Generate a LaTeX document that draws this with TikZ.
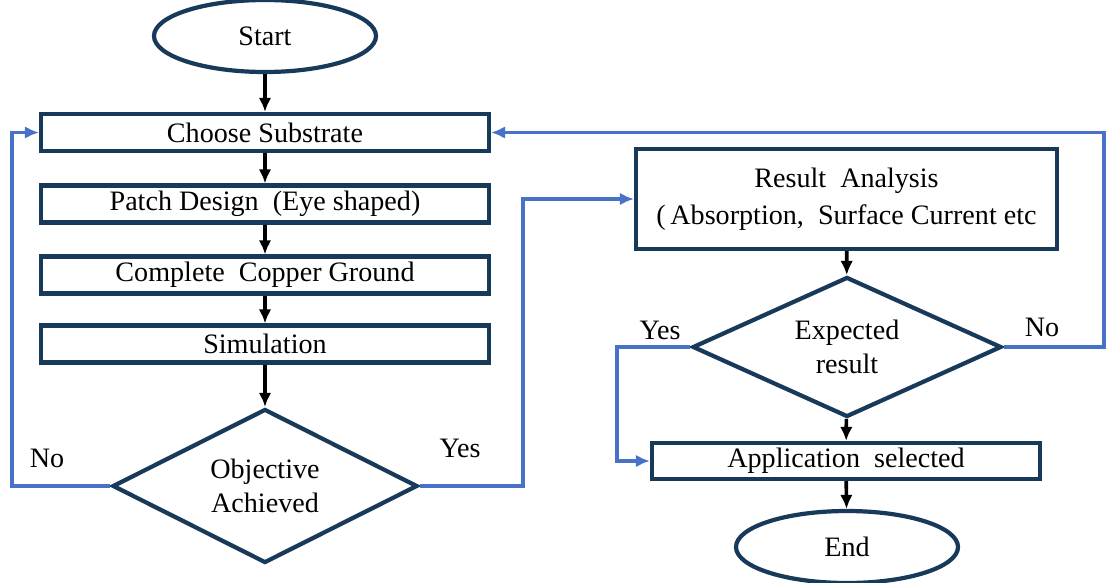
\documentclass[tikz,border=0pt]{standalone}
\usepackage{fontspec}
\setmainfont{Liberation Serif}
\usetikzlibrary{shapes.geometric,arrows.meta}

\definecolor{boxline}{RGB}{24,58,90}
\definecolor{loopblue}{RGB}{72,114,200}

\begin{document}
\begin{tikzpicture}[
    every node/.style={font=\fontsize{20}{24}\selectfont},
    stepbox/.style={draw=boxline,line width=3pt,fill=white,minimum width=11.2cm,minimum height=0.925cm,inner sep=0pt},
    termbox/.style={draw=boxline,line width=3pt,fill=white,ellipse,minimum width=5.55cm,minimum height=1.8cm,inner sep=0pt},
    askbox/.style={draw=boxline,line width=3pt,fill=white,diamond,aspect=2,inner sep=0pt,align=center},
    flow/.style={line width=2.6pt,-{Latex[length=10pt,width=9pt]}},
    back/.style={draw=loopblue,line width=2.6pt,-{Latex[length=10pt,width=9pt]}}
  ]
        \useasboundingbox (0,0) rectangle (27.675,-14.575);
        \coordinate (c1) at (6.625,-0.9);
        \coordinate (c2) at (6.625,-3.3125);
        \coordinate (c3) at (6.625,-5.1);
        \coordinate (c4) at (6.625,-6.875);
        \coordinate (c5) at (6.625,-8.6);
        \coordinate (c6) at (6.625,-12.15);
        \coordinate (r1) at (21.1625,-4.975);
        \coordinate (r2) at (21.175,-8.675);
        \coordinate (r3) at (21.15,-11.525);
        \coordinate (r4) at (21.175,-13.675);
        \node[termbox] (Start) at (c1){Start};
        \node[stepbox] (Substrate) at (c2){Choose Substrate};
        \node[stepbox] (Patch) at (c3){Patch Design\ \ (Eye shaped)};
        \node[stepbox] (Ground) at (c4){Complete\ \ Copper Ground};
        \node[stepbox] (Simulation) at (c5){Simulation};
        \node[askbox,minimum width=7.625cm,minimum height=3.85cm] (Objective) at (c6){Objective\\Achieved};
        \node[stepbox,minimum width=10.525cm,minimum height=2.5cm,align=center,font=\fontsize{20}{26}\selectfont] (Analysis) at (r1){Result\ \ Analysis\\(\,Absorption,\ \ Surface Current etc};
        \node[askbox,minimum width=7.725cm,minimum height=3.5cm] (Expected) at (r2){Expected\\result};
        \node[stepbox,minimum width=9.7cm,minimum height=0.9cm] (Application) at (r3){Application\ \ selected};
        \node[termbox] (End) at (r4){End};
        % main flow
        \draw[flow] (Start) -- (Substrate);
        \draw[flow] (Substrate) -- (Patch);
        \draw[flow] (Patch) -- (Ground);
        \draw[flow] (Ground) -- (Simulation);
        \draw[flow] (Simulation) -- (Objective);
        \draw[flow] (Analysis) -- (Expected);
        \draw[flow] (Expected) -- (Application);
        \draw[flow] (Application) -- (End);
        % loops
        \coordinate (noL) at (0.3,-12.15);
        \coordinate (yesM) at (13.075,-12.15);
        \coordinate (yesL) at (15.425,-8.675);
        \coordinate (noR) at (27.6,-8.675);
        \draw[back] (Objective.west) -- (noL) |- (Substrate.west);
        \draw[back] (Objective.east) -- (yesM) |- (Analysis.west);
        \draw[back] (Expected.west) -- (yesL) |- (Application.west);
        \draw[back] (Expected.east) -- (noR) |- (Substrate.east);
        \node (NoA) at (1.175,-11.45){No};
        \node (YesA) at (11.5,-11.2){Yes};
        \node (YesB) at (16.5,-8.25){Yes};
        \node (NoB) at (26.05,-8.175){No};
    \end{tikzpicture}
\end{document}
